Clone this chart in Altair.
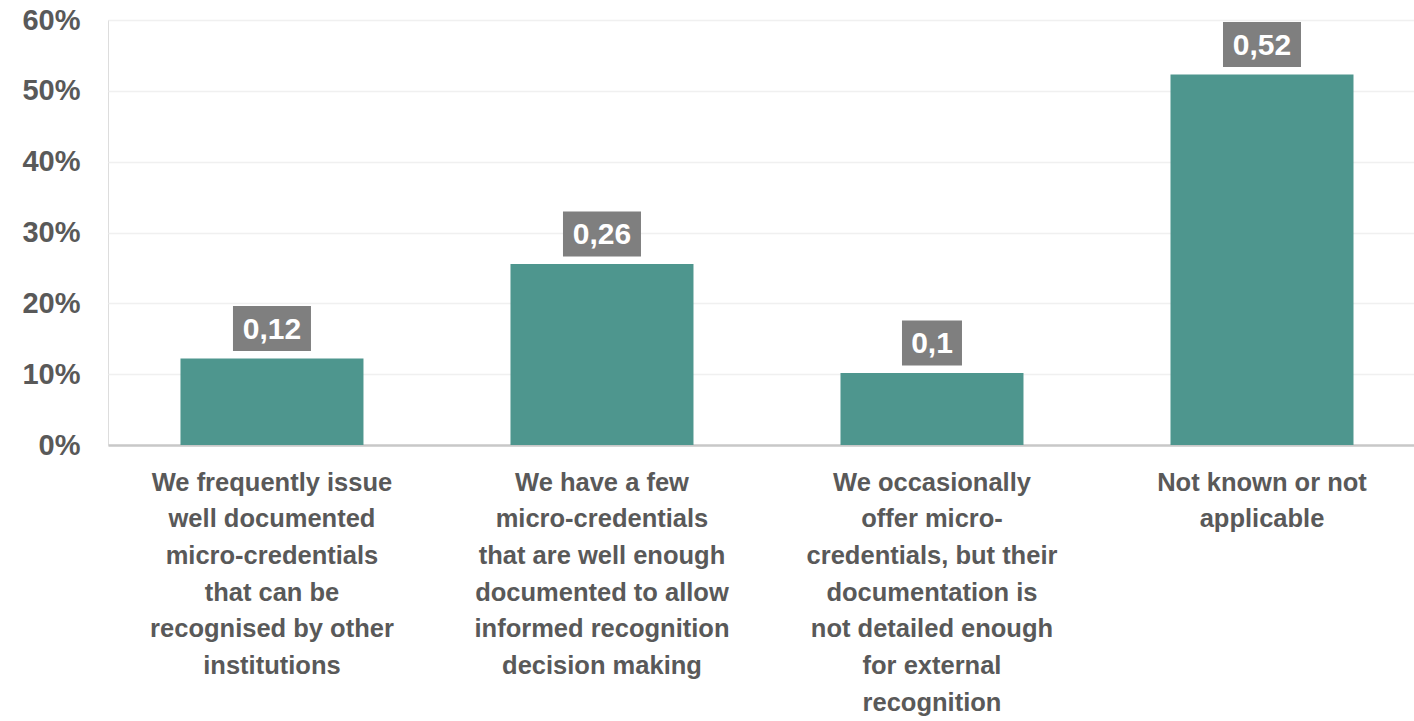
import altair as alt
import pandas as pd

categories = [
    "We frequently issue|well documented|micro-credentials|that can be|recognised by other|institutions",
    "We have a few|micro-credentials|that are well enough|documented to allow|informed recognition|decision making",
    "We occasionally|offer micro-|credentials, but their|documentation is|not detailed enough|for external|recognition",
    "Not known or not|applicable",
]
values = [0.122, 0.2555, 0.1015, 0.523]
labels = ["0,12", "0,26", "0,1", "0,52"]

df = pd.DataFrame({"cat": categories, "value": values, "label": labels})

TEXT = "#595959"
xscale = alt.Scale(paddingInner=0.4455, paddingOuter=0.2015, align=0.545)
x = alt.X("cat:N", sort=categories, scale=xscale, axis=alt.Axis(
    title=None, labelAngle=0, labelExpr="split(datum.label, '|')",
    labelFont="Liberation Sans", labelFontWeight="bold", labelFontSize=25.5,
    labelColor=TEXT, labelLineHeight=36.7, labelBaseline="top", labelPadding=25,
    labelLimit=0, ticks=False, domainColor="#c8c8c8", domainWidth=2.5,
    labelOverlap=False))
y = alt.Y("value:Q", scale=alt.Scale(domain=[0, 0.6]), axis=alt.Axis(
    title=None, format=".0%", values=[0, 0.1, 0.2, 0.3, 0.4, 0.5, 0.6],
    labelFont="Liberation Sans", labelFontWeight="bold", labelFontSize=29,
    labelColor=TEXT, labelPadding=28, ticks=False, tickSize=0, domain=False,
    gridColor="#f0f0f0", gridWidth=1.5))

base = alt.Chart(df)
bars = base.mark_bar(color="#4e968e", width=183).encode(x=x, y=y)
box_wide = base.transform_filter("length(datum.label) > 3").mark_bar(
    color="#7f7f7f", width=78, yOffset=-7.5, y2Offset=-52.5).encode(
    x=alt.X("cat:N", sort=categories), y="value:Q", y2="value")
box_narrow = base.transform_filter("length(datum.label) <= 3").mark_bar(
    color="#7f7f7f", width=60, yOffset=-7.5, y2Offset=-52.5).encode(
    x=alt.X("cat:N", sort=categories), y="value:Q", y2="value")
text = base.mark_text(font="Liberation Sans", fontWeight="bold", fontSize=30,
                      color="white", baseline="middle", dy=-29).encode(
    x=alt.X("cat:N", sort=categories), y="value:Q", text="label:N")

chart = alt.layer(bars, box_wide, box_narrow, text).properties(
    width=1306, height=425,
    autosize=alt.AutoSizeParams(type="none"),
    padding={"left": 108, "top": 20, "right": 0, "bottom": 276},
).configure_view(stroke=None).configure(background="white")

chart.save("out.html", embed_options={"renderer": "svg", "actions": False})
